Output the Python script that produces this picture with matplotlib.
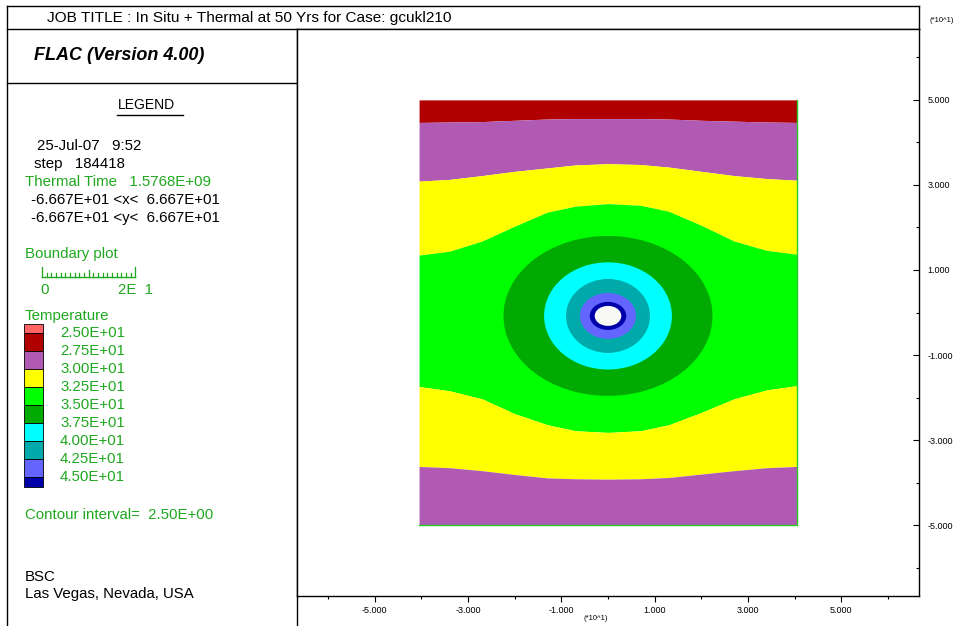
import matplotlib.pyplot as plt
from matplotlib.patches import Ellipse, Rectangle

plt.rcParams["font.family"] = ["Liberation Sans", "DejaVu Sans"]

GREEN_TXT = "#1fa81f"
BODY_FS = 10.8

# Temperature band boundaries across the model (x, y in m)
xs = [-40.5, -34, -27, -20, -13, -7, 0, 7, 13, 20, 27, 34, 40.5]
red_purple = [44.7, 44.8, 44.9, 45.2, 45.5, 45.6, 45.6, 45.6, 45.5, 45.2, 45.0, 44.8, 44.7]
purple_yellow_top = [30.9, 31.3, 32.2, 33.2, 34.0, 34.7, 35.0, 34.8, 34.2, 33.2, 32.2, 31.5, 31.1]
yellow_green_top = [13.5, 14.4, 16.8, 20.3, 23.6, 25.0, 25.6, 25.2, 23.8, 20.5, 16.8, 14.6, 13.7]
green_yellow_bot = [-17.4, -18.4, -20.3, -23.8, -26.4, -27.8, -28.2, -27.8, -26.4, -23.5, -20.3, -18.2, -17.2]
yellow_purple_bot = [-36.2, -36.5, -37.2, -38.1, -38.9, -39.1, -39.2, -39.1, -38.8, -38.0, -37.2, -36.5, -36.2]
model_top, model_bottom = 50.0, -50.0

# closed contours around the drift, outermost first
ring_rx = [22.4, 13.7, 9.0, 6.0, 3.9]
ring_ry = [18.8, 12.6, 8.7, 5.4, 3.3]
ring_cy = -0.8
hole_rx, hole_ry = 2.85, 2.35

levels = [25.0, 27.5, 30.0, 32.5, 35.0, 37.5, 40.0, 42.5, 45.0]
level_colors = ["#ff6464", "#b00000", "#b05ab4", "#ffff00", "#00ff00",
                "#00aa00", "#00ffff", "#00aaaa", "#6464ff", "#0000aa"]

major_ticks = [-50, -30, -10, 10, 30, 50]
minor_ticks = [-60, -40, -20, 0, 20, 40, 60]

info_lines = [
    ("25-Jul-07   9:52", 37, 146, "black"),
    ("step   184418", 34, 164, "black"),
    ("Thermal Time   1.5768E+09", 25, 182, GREEN_TXT),
    (" -6.667E+01 <x<  6.667E+01", 27, 200, "black"),
    (" -6.667E+01 <y<  6.667E+01", 27, 218, "black"),
    ("Boundary plot", 25, 254, GREEN_TXT),
    ("Temperature", 25, 316, GREEN_TXT),
    ("Contour interval=  2.50E+00", 25, 515, GREEN_TXT),
    ("BSC", 25, 577, "black"),
    ("Las Vegas, Nevada, USA", 25, 594, "black"),
]

fig = plt.figure(figsize=(9.61, 6.26), dpi=100)

# page layer in pixel units for the frame and legend panel
bg = fig.add_axes([0, 0, 1, 1])
bg.set_xlim(0, 961)
bg.set_ylim(626, 0)
bg.axis("off")

lk = dict(color="black", lw=1.0)
bg.plot([7, 919], [6, 6], **lk)
bg.plot([7, 919], [29, 29], **lk)
bg.plot([7, 7], [6, 630], **lk)
bg.plot([297, 297], [29, 630], **lk)
bg.plot([919, 919], [6, 29], **lk)
bg.plot([7, 297], [83, 83], **lk)

bg.text(47, 18, "JOB TITLE : In Situ + Thermal at 50 Yrs for Case: gcukl210",
        fontsize=11.1, va="center", ha="left")
bg.text(34, 56, "FLAC (Version 4.00)", fontsize=13, fontweight="bold",
        fontstyle="italic", va="center", ha="left")
bg.text(146, 105, "LEGEND", fontsize=10, va="center", ha="center")
bg.plot([117, 183], [115, 115], color="black", lw=1.0)

for txt, x, y, c in info_lines:
    bg.text(x, y, txt, fontsize=BODY_FS, color=c, va="center", ha="left")

# scale bar, 20 m at the model scale
px_per_m = 622 / 133.33
bar_x0, bar_y = 42, 277
bg.plot([bar_x0, bar_x0 + 20 * px_per_m], [bar_y, bar_y], color=GREEN_TXT, lw=1)
for i in range(21):
    h = 10 if i in (0, 20) else (7 if i == 10 else 4)
    xi = bar_x0 + i * px_per_m
    bg.plot([xi, xi], [bar_y, bar_y - h], color=GREEN_TXT, lw=0.9)
bg.text(45, 290, "0", fontsize=BODY_FS, color=GREEN_TXT, va="center", ha="center")
bg.text(118, 290, "2E  1", fontsize=BODY_FS, color=GREEN_TXT, va="center", ha="left")

# colour key
sw_x, sw_w, step = 24, 19, 18
first_edge = 333
edges = [324] + [first_edge + step * k for k in range(len(levels))] + [487]
for k, col in enumerate(level_colors):
    bg.add_patch(Rectangle((sw_x, edges[k]), sw_w, edges[k + 1] - edges[k],
                           facecolor=col, edgecolor="black", lw=0.6))
for k, v in enumerate(levels):
    bg.text(60, first_edge + step * k, f"{v / 10:.2f}E+01", fontsize=BODY_FS,
            color=GREEN_TXT, va="center", ha="left")

bg.text(942, 20, "(*10^1)", fontsize=5.5, va="center", ha="center")
bg.text(596, 619, "(*10^1)", fontsize=5.5, va="center", ha="center")

# model plot
ax = fig.add_axes([297 / 961, (626 - 596) / 626, 622 / 961, 567 / 626])
ax.set_xlim(-66.67, 66.67)
ax.set_ylim(-66.67, 66.67)
for s in ax.spines.values():
    s.set_linewidth(1.0)

ax.fill_between(xs, red_purple, model_top, color=level_colors[1], lw=0)
ax.fill_between(xs, purple_yellow_top, red_purple, color=level_colors[2], lw=0)
ax.fill_between(xs, yellow_green_top, purple_yellow_top, color=level_colors[3], lw=0)
ax.fill_between(xs, green_yellow_bot, yellow_green_top, color=level_colors[4], lw=0)
ax.fill_between(xs, yellow_purple_bot, green_yellow_bot, color=level_colors[3], lw=0)
ax.fill_between(xs, model_bottom, yellow_purple_bot, color=level_colors[2], lw=0)

for rx, ry, col in zip(ring_rx, ring_ry, level_colors[5:]):
    ax.add_patch(Ellipse((0, ring_cy), 2 * rx, 2 * ry, facecolor=col, lw=0))
ax.add_patch(Ellipse((0, ring_cy), 2 * hole_rx, 2 * hole_ry, facecolor="#f8f8f4", lw=0))

# boundary plot along the model edges
ax.plot([xs[0], xs[-1], xs[-1]], [model_bottom, model_bottom, model_top],
        color="#22cc22", lw=1.0)

ax.yaxis.tick_right()
ax.set_yticks(major_ticks, [f"{t / 10:.3f}" for t in major_ticks])
ax.set_yticks(minor_ticks, minor=True)
ax.set_xticks(major_ticks, [f"{t / 10:.3f}" for t in major_ticks])
ax.set_xticks(minor_ticks, minor=True)
ax.tick_params(axis="y", which="both", direction="in", labelsize=6.5, pad=6)
ax.tick_params(axis="y", which="major", length=4, width=0.8)
ax.tick_params(axis="y", which="minor", length=2.5, width=0.8)
ax.tick_params(axis="x", which="both", direction="out", labelsize=6.5, pad=3)
ax.tick_params(axis="x", which="major", length=4, width=0.8)
ax.tick_params(axis="x", which="minor", length=2.5, width=0.8)

fig.savefig("out.png", dpi=100)
